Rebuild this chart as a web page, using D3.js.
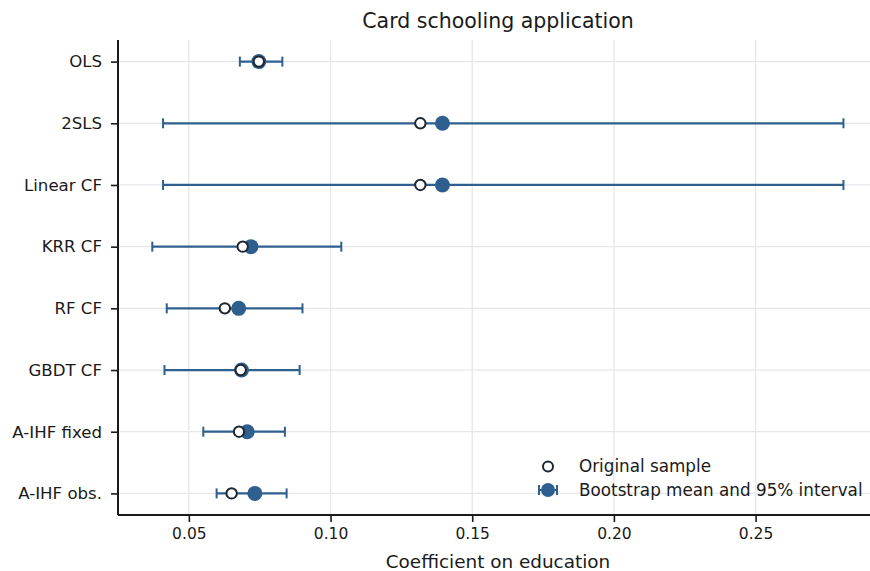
<!DOCTYPE html>
<html>
<head>
<meta charset="utf-8">
<script src="https://cdn.jsdelivr.net/npm/d3@7"></script>
<style>
  body { margin: 0; background: #fff; }
  text { font-family: "DejaVu Sans", sans-serif; fill: #1a1a1a; }
</style>
</head>
<body>
<div id="chart"></div>
<script>
// estimates per method
var methods  = ["OLS", "2SLS", "Linear CF", "KRR CF", "RF CF", "GBDT CF", "A-IHF fixed", "A-IHF obs."];
var original = [0.0747, 0.1317, 0.1317, 0.0690, 0.0627, 0.0683, 0.0677, 0.0651];
var bootMean = [0.0747, 0.1395, 0.1395, 0.0719, 0.0676, 0.0686, 0.0706, 0.0733];
var ciLow    = [0.0680, 0.0409, 0.0409, 0.0371, 0.0422, 0.0414, 0.0551, 0.0598];
var ciHigh   = [0.0830, 0.2810, 0.2810, 0.1038, 0.0901, 0.0891, 0.0839, 0.0845];
var xTicks   = [0.05, 0.10, 0.15, 0.20, 0.25];

var W = 870, H = 571,
    margin = { top: 40, left: 118, right: -8, bottom: 56 },
    blue = "#2e5f8e",
    dark = "#1e2633";

var svg = d3.select("#chart").append("svg")
    .attr("width", W)
    .attr("height", H);

var x = d3.scaleLinear()
    .domain([0.025, 0.2932])
    .range([margin.left, W - margin.right]);

var y = d3.scaleLinear()
    .domain([-0.35, methods.length - 1 + 0.35])
    .range([margin.top, H - margin.bottom]);

var rows = methods.map(function(m, i) {
  return { name: m, i: i, orig: original[i], mean: bootMean[i], lo: ciLow[i], hi: ciHigh[i] };
});

// grid
svg.append("g").selectAll("line.vg")
  .data(xTicks).enter().append("line")
    .attr("x1", function(d) { return x(d); })
    .attr("x2", function(d) { return x(d); })
    .attr("y1", y.range()[0])
    .attr("y2", y.range()[1])
    .attr("stroke", "#e6e7ec")
    .attr("stroke-width", 1.3);

svg.append("g").selectAll("line.hg")
  .data(rows).enter().append("line")
    .attr("x1", x.range()[0])
    .attr("x2", x.range()[1])
    .attr("y1", function(d) { return y(d.i); })
    .attr("y2", function(d) { return y(d.i); })
    .attr("stroke", "#e6e7ec")
    .attr("stroke-width", 1.3);

// axes
var xAxis = svg.append("g")
    .attr("transform", "translate(0," + y.range()[1] + ")")
    .call(d3.axisBottom(x).tickValues(xTicks).tickFormat(d3.format(".2f")).tickSize(7).tickPadding(6));

var yAxis = svg.append("g")
    .attr("transform", "translate(" + margin.left + ",0)")
    .call(d3.axisLeft(y).tickValues(d3.range(methods.length))
      .tickFormat(function(d) { return methods[d]; }).tickSize(7).tickPadding(9));

[xAxis, yAxis].forEach(function(a) {
  a.select(".domain").attr("stroke", "#1a1a1a").attr("stroke-width", 2);
  a.selectAll(".tick line").attr("stroke", "#1a1a1a").attr("stroke-width", 1.6);
  a.selectAll(".tick text").style("font-size", "15.5px").attr("fill", "#1a1a1a");
});
yAxis.selectAll(".tick text").style("font-size", "16.6px");
yAxis.select(".domain").attr("d", "M" + 0 + "," + y.range()[0] + "V" + y.range()[1]);
xAxis.select(".domain").attr("d", "M" + x.range()[0] + ",0H" + x.range()[1]);

// error bars
var eb = svg.append("g").selectAll("g.eb")
  .data(rows).enter().append("g");

eb.append("line")
    .attr("x1", function(d) { return x(d.lo); })
    .attr("x2", function(d) { return x(d.hi); })
    .attr("y1", function(d) { return y(d.i); })
    .attr("y2", function(d) { return y(d.i); })
    .attr("stroke", blue)
    .attr("stroke-width", 2.2);

eb.selectAll("line.cap")
  .data(function(d) { return [d.lo, d.hi].map(function(v) { return { v: v, i: d.i }; }); })
  .enter().append("line")
    .attr("x1", function(d) { return x(d.v); })
    .attr("x2", function(d) { return x(d.v); })
    .attr("y1", function(d) { return y(d.i) - 5; })
    .attr("y2", function(d) { return y(d.i) + 5; })
    .attr("stroke", blue)
    .attr("stroke-width", 2);

eb.append("circle")
    .attr("cx", function(d) { return x(d.mean); })
    .attr("cy", function(d) { return y(d.i); })
    .attr("r", 7.5)
    .attr("fill", blue);

eb.append("circle")
    .attr("cx", function(d) { return x(d.orig); })
    .attr("cy", function(d) { return y(d.i); })
    .attr("r", 5.2)
    .attr("fill", "#fff")
    .attr("stroke", dark)
    .attr("stroke-width", 2);

// title + label
svg.append("text")
    .attr("x", (x.range()[0] + x.range()[1]) / 2)
    .attr("y", 28)
    .attr("text-anchor", "middle")
    .style("font-size", "20.5px")
    .text("Card schooling application");

svg.append("text")
    .attr("x", (x.range()[0] + x.range()[1]) / 2)
    .attr("y", 568)
    .attr("text-anchor", "middle")
    .style("font-size", "18.4px")
    .text("Coefficient on education");

// legend
var lg = svg.append("g").attr("transform", "translate(548,0)");
lg.append("circle")
    .attr("cx", 0).attr("cy", 466.5).attr("r", 5)
    .attr("fill", "#fff").attr("stroke", dark).attr("stroke-width", 2);
lg.append("line")
    .attr("x1", -9).attr("x2", 9).attr("y1", 490).attr("y2", 490)
    .attr("stroke", blue).attr("stroke-width", 2);
[-9, 9].forEach(function(dx) {
  lg.append("line")
    .attr("x1", dx).attr("x2", dx).attr("y1", 485).attr("y2", 495)
    .attr("stroke", blue).attr("stroke-width", 2);
});
lg.append("circle")
    .attr("cx", 0).attr("cy", 490).attr("r", 7)
    .attr("fill", blue);
lg.selectAll("text.lt")
  .data(["Original sample", "Bootstrap mean and 95% interval"])
  .enter().append("text")
    .attr("x", 31)
    .attr("y", function(d, i) { return 466.5 + i * 23.5; })
    .attr("dy", "0.35em")
    .style("font-size", "16.8px")
    .text(function(d) { return d; });
</script>
</body>
</html>
